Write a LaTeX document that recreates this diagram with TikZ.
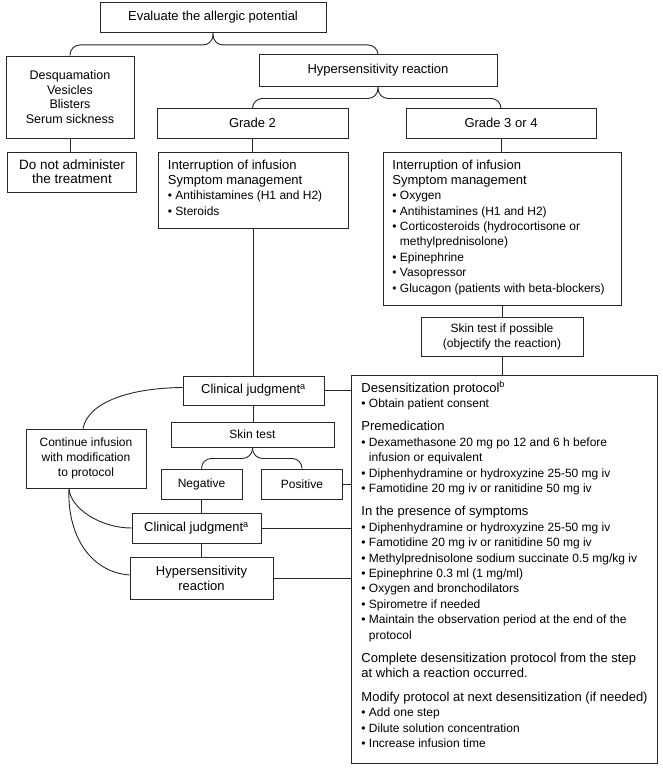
\documentclass[tikz,border=0pt]{standalone}
\usepackage{fontspec}
\setmainfont{Liberation Sans}
\usetikzlibrary{calc}
\newcommand\fsA{\fontsize{13}{15}\selectfont}
\newcommand\fsB{\fontsize{12}{15}\selectfont}
\newcommand\fsC{\fontsize{12.5}{14.7}\selectfont}
\newcommand\fsD{\fontsize{13.5}{14}\selectfont}
\begin{document}
\begin{tikzpicture}[x=1pt,y=-1pt,line width=0.9pt,
  box/.style={draw=black!85, inner sep=0pt, align=center, font=\fsA},
  ln/.style={draw=black!85},
  brc/.style={draw=black!85, rounded corners=10pt},
  tl/.style={anchor=base west, inner sep=0pt, font=\fsB}]
\useasboundingbox (0,0) rectangle (663,768);

% ---- boxes ----
\node[box, minimum width=226pt, minimum height=30pt] (eval) at (213,17) {Evaluate the allergic potential};
\node[box, minimum width=128pt, minimum height=82pt, font=\fsC] (desq) at (70,97) {Desquamation\\Vesicles\\Blisters\\Serum sickness};
\node[box, minimum width=238pt, minimum height=32pt] (hr1) at (378,70) {Hypersensitivity reaction};
\node[box, minimum width=191pt, minimum height=30pt] (g2) at (252.5,123) {Grade 2};
\node[box, minimum width=190pt, minimum height=30pt] (g3) at (501,123) {Grade 3 or 4};
\node[box, minimum width=129pt, minimum height=40pt, font=\fsD] (donot) at (72,172) {Do not administer\\the treatment};
\node[box, minimum width=190pt, minimum height=76pt] (g2c) at (253,190) {};
\node[box, minimum width=238pt, minimum height=153pt] (g3c) at (502,228.5) {};
\node[box, minimum width=162pt, minimum height=39pt, font=\fsB] (skinp) at (502,336.5) {Skin test if possible\\(objectify the reaction)};
\node[box, minimum width=141pt, minimum height=29pt] (cj1) at (253.5,390.5) {Clinical judgment\textsuperscript{a}};
\node[box, minimum width=306pt, minimum height=388pt] (desens) at (504,569) {};
\node[box, minimum width=163pt, minimum height=25pt, font=\fsB] (skin) at (252.5,434.5) {Skin test};
\node[box, minimum width=81pt, minimum height=30pt, font=\fsB] (neg) at (201.5,484) {Negative};
\node[box, minimum width=80.5pt, minimum height=30pt, font=\fsB] (pos) at (302,484) {Positive};
\node[box, minimum width=120pt, minimum height=59pt, font=\fsB] (cont) at (86,458.5) {Continue infusion\\with modification\\to protocol};
\node[box, minimum width=129pt, minimum height=30pt] (cj2) at (196.5,528) {Clinical judgment\textsuperscript{a}};
\node[box, minimum width=143pt, minimum height=42pt] (hr2) at (201.5,578) {Hypersensitivity\\reaction};

% ---- text inside content boxes ----
\node[tl] (g2t1) at (167.5,169.5) {\fsA Interruption of infusion};
\node[tl] (g2t2) at (167.5,184.5) {\fsA Symptom management};
\node[tl] (g2t3) at (167.5,199.5) {• Antihistamines (H1 and H2)};
\node[tl] (g2t4) at (167.5,215) {• Steroids};

\foreach \ly/\lt [count=\i] in {
169.5/{\fsA Interruption of infusion},
184.5/{\fsA Symptom management},
199.5/{• Oxygen},
215/{• Antihistamines (H1 and H2)},
230.5/{• Corticosteroids (hydrocortisone or},
245.5/{\phantom{• }methylprednisolone)},
261/{• Epinephrine},
276.5/{• Vasopressor},
292/{• Glucagon (patients with beta-blockers)}}
  \node[tl] (g3t\i) at (392,\ly) {\lt};

\foreach \ly/\lt [count=\i] in {
392/{\fsA Desensitization protocol\textsuperscript{b}},
407.4/{• Obtain patient consent},
430.8/{\fsA Premedication},
446.2/{• Dexamethasone 20 mg po 12 and 6 h before},
461.6/{\phantom{• }infusion or equivalent},
477/{• Diphenhydramine or hydroxyzine 25-50 mg iv},
492.4/{• Famotidine 20 mg iv or ranitidine 50 mg iv},
515.8/{\fsA In the presence of symptoms},
531.2/{• Diphenhydramine or hydroxyzine 25-50 mg iv},
546.6/{• Famotidine 20 mg iv or ranitidine 50 mg iv},
562/{• Methylprednisolone sodium succinate 0.5 mg/kg iv},
577.4/{• Epinephrine 0.3 ml (1 mg/ml)},
592.8/{• Oxygen and bronchodilators},
608.2/{• Spirometre if needed},
623.6/{• Maintain the observation period at the end of the},
639/{\phantom{• }protocol},
662.4/{\fsA Complete desensitization protocol from the step},
677.8/{\fsA at which a reaction occurred.},
701.2/{\fsA Modify protocol at next desensitization (if needed)},
716.6/{• Add one step},
732/{• Dilute solution concentration},
747.4/{• Increase infusion time}}
  \node[tl] (dst\i) at (361,\ly) {\lt};

% ---- braces ----
\coordinate (b1) at ($(eval.south)+(0,12.5)$);
\draw[brc] (eval.south) |- (desq.north |- b1) -- (desq.north);
\draw[brc] (eval.south) |- (hr1.north |- b1) -- (hr1.north);
\coordinate (b2) at ($(hr1.south)+(0,12)$);
\draw[brc] (hr1.south) |- (g2.north |- b2) -- (g2.north);
\draw[brc] (hr1.south) |- (g3.north |- b2) -- (g3.north);
\coordinate (b3) at ($(skin.south)+(0,11)$);
\draw[brc] (skin.south) |- (neg.north |- b3) -- (neg.north);
\draw[brc] (skin.south) |- (pos.north |- b3) -- (pos.north);

% ---- straight connectors ----
\draw[ln] (desq.south) -- (desq.south |- donot.north);
\draw[ln] (g2.south) -- (g2.south |- g2c.north);
\draw[ln] (g3.south) -- (g3.south |- g3c.north);
\draw[ln] (g2c.south) -- (g2c.south |- cj1.north);
\draw[ln] (g3c.south) -- (g3c.south |- skinp.north);
\draw[ln] (skinp.south) -- (skinp.south |- desens.north);
\draw[ln] (cj1.east) -- (cj1.east -| desens.west);
\draw[ln] (cj1.south) -- (cj1.south |- skin.north);
\draw[ln] (pos.east) -- (pos.east -| desens.west);
\draw[ln] (neg.south) -- (neg.south |- cj2.north);
\draw[ln] (cj2.east) -- (cj2.east -| desens.west);
\draw[ln] (neg.south |- cj2.south) -- (neg.south |- hr2.north);
\draw[ln] (hr2.east) -- (hr2.east -| desens.west);

% ---- curved connectors ----
\coordinate (cb) at ($(cont.south)+(-17,0)$);
\draw[ln] ($(cj1.west)+(0,-3)$) .. controls (130,388) and (88,402) .. ($(cont.north)+(-3,0)$);
\draw[ln] (cb) .. controls (70,508) and (100,528) .. (cj2.west);
\draw[ln] (cb) .. controls (67,535) and (90,572) .. ($(hr2.west)+(0,-3)$);
\end{tikzpicture}
\end{document}
